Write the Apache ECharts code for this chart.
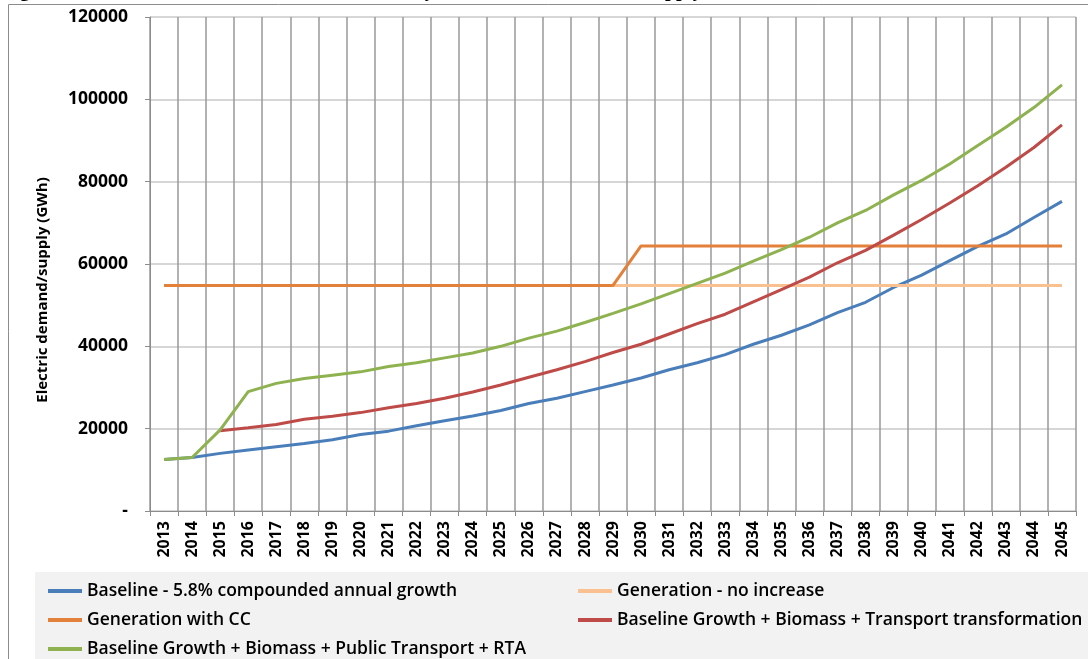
<!DOCTYPE html>
<html>
<head>
<meta charset="utf-8">
<script src="https://cdn.jsdelivr.net/npm/echarts@6/dist/echarts.min.js"></script>
<style>
  html, body { margin: 0; padding: 0; background: #fff; }
  #main { width: 1088px; height: 659px; }
</style>
</head>
<body>
<div id="main"></div>
<script>
// 年份
var years = ["2013", "2014", "2015", "2016", "2017", "2018", "2019", "2020", "2021", "2022", "2023",
    "2024", "2025", "2026", "2027", "2028", "2029", "2030", "2031", "2032", "2033", "2034",
    "2035", "2036", "2037", "2038", "2039", "2040", "2041", "2042", "2043", "2044", "2045"];
// 各条线 (GWh)
var baseline = [12500, 13000, 14000, 14800, 15600, 16400, 17300, 18600, 19400, 20700, 21900,
    23100, 24400, 26100, 27400, 29000, 30600, 32300, 34300, 36000, 38000, 40500,
    42700, 45200, 48200, 50700, 54300, 57300, 60800, 64300, 67300, 71300, 75200];
var genNoIncrease = [54800, 54800, 54800, 54800, 54800, 54800, 54800, 54800, 54800, 54800, 54800,
    54800, 54800, 54800, 54800, 54800, 54800, 54800, 54800, 54800, 54800, 54800,
    54800, 54800, 54800, 54800, 54800, 54800, 54800, 54800, 54800, 54800, 54800];
var genWithCC = [54800, 54800, 54800, 54800, 54800, 54800, 54800, 54800, 54800, 54800, 54800,
    54800, 54800, 54800, 54800, 54800, 54800, 64400, 64400, 64400, 64400, 64400,
    64400, 64400, 64400, 64400, 64400, 64400, 64400, 64400, 64400, 64400, 64400];
var transport = [null, null, 19500, 20200, 21000, 22300, 23000, 23900, 25100, 26100, 27400,
    28900, 30600, 32500, 34300, 36300, 38500, 40500, 43000, 45500, 47800, 50800,
    53800, 56800, 60300, 63300, 67000, 70800, 74800, 79000, 83500, 88300, 93800];
var publicRta = [12500, 13000, 19700, 29000, 31000, 32200, 33000, 33800, 35100, 36000, 37200,
    38400, 40000, 42000, 43700, 45800, 48000, 50300, 52800, 55300, 57800, 60700,
    63500, 66500, 70000, 73000, 76800, 80300, 84300, 88800, 93200, 98000, 103500];
var yTicks = [0, 20000, 40000, 60000, 80000, 100000, 120000];

var names = ["Baseline - 5.8% compounded annual growth", "Generation - no increase",
    "Generation with CC", "Baseline Growth + Biomass + Transport transformation",
    "Baseline Growth + Biomass + Public Transport + RTA"];
var colors = ["#4a7ebb", "#fac08f", "#e3803a", "#be4b48", "#8eb24f"];
var lines = [baseline, genNoIncrease, genWithCC, transport, publicRta];

var font = "'Open Sans', 'Noto Sans', sans-serif";

var myChart = echarts.init(document.querySelector("#main"));
var legendText = {
    color: "#000",
    fontFamily: font,
    fontSize: 17.5,
    fontWeight: 600,
    lineHeight: 20
};
var option = {
    animation: false,
    backgroundColor: "#fff",
    textStyle: { fontFamily: font },
    graphic: [
        // 外框
        { type: "line", shape: { x1: 8.5, y1: 4.5, x2: 8.5, y2: 659 }, style: { stroke: "#8c8c8c", lineWidth: 1 } },
        { type: "line", shape: { x1: 8.5, y1: 4.5, x2: 1088, y2: 4.5 }, style: { stroke: "#8c8c8c", lineWidth: 1 } },
        // 图例背景
        { type: "rect", z: -1, shape: { x: 35, y: 572, width: 1053, height: 87 }, style: { fill: "#f2f2f2" } },
        // 纵轴标题
        {
            type: "text", x: 43, y: 290, rotation: Math.PI / 2,
            style: {
                text: "Electric demand/supply (GWh)", align: "center", verticalAlign: "middle",
                font: "bold 15px 'Open Sans'", fill: "#000"
            }
        },
        // 被裁掉的标题
        { type: "text", left: 2, top: -19, style: { text: "Figure 4:", font: "bold 20px 'Liberation Serif'", fill: "#000" } },
        { type: "text", left: 346, top: -19, style: { text: "Electricity", font: "bold 20px 'Liberation Serif'", fill: "#000" } },
        { type: "text", left: 646, top: -19, style: { text: "supply", font: "bold 20px 'Liberation Serif'", fill: "#000" } }
    ],
    //坐标系位置
    grid: {
        left: 150,
        right: 12,
        top: 17,
        bottom: 148
    },
    legend: [
        {
            orient: "vertical",
            left: 48,
            top: 581,
            height: 90,
            padding: 0,
            icon: "rect",
            itemWidth: 34,
            itemHeight: 4,
            itemGap: 9,
            data: [names[0], names[2], names[4]],
            textStyle: legendText
        },
        {
            orient: "vertical",
            left: 578,
            top: 581,
            height: 90,
            padding: 0,
            icon: "rect",
            itemWidth: 34,
            itemHeight: 4,
            itemGap: 9,
            data: [names[1], names[3]],
            textStyle: legendText
        }
    ],
    xAxis: {
        type: "category",
        data: years,
        boundaryGap: true,
        axisLine: { lineStyle: { color: "#8c8c8c" } },
        axisTick: { show: true, length: 5, lineStyle: { color: "#8c8c8c" } },
        splitLine: { show: true, lineStyle: { color: "#999", width: 1.5 } },
        axisLabel: {
            rotate: 90,
            interval: 0,
            margin: 10,
            color: "#000",
            fontFamily: font,
            fontSize: 16,
            fontWeight: "bold"
        }
    },
    yAxis: {
        type: "value",
        min: yTicks[0],
        max: yTicks[yTicks.length - 1],
        interval: yTicks[1] - yTicks[0],
        axisLine: { show: true, lineStyle: { color: "#8c8c8c" } },
        axisTick: { show: true, length: 5, lineStyle: { color: "#8c8c8c" } },
        splitLine: { show: true, lineStyle: { color: "#c8c8c8", width: 1.5 } },
        axisLabel: {
            margin: 22,
            color: "#000",
            fontFamily: font,
            fontSize: 17.5,
            fontWeight: "bold",
            formatter: function (v) {
                return v === 0 ? "-" : String(v);
            }
        }
    },
    series: lines.map(function (d, i) {
        return {
            name: names[i],
            type: "line",
            data: d,
            symbol: "none",
            color: colors[i],
            lineStyle: { width: 3, color: colors[i] }
        };
    })
};
myChart.setOption(option);
</script>
</body>
</html>
